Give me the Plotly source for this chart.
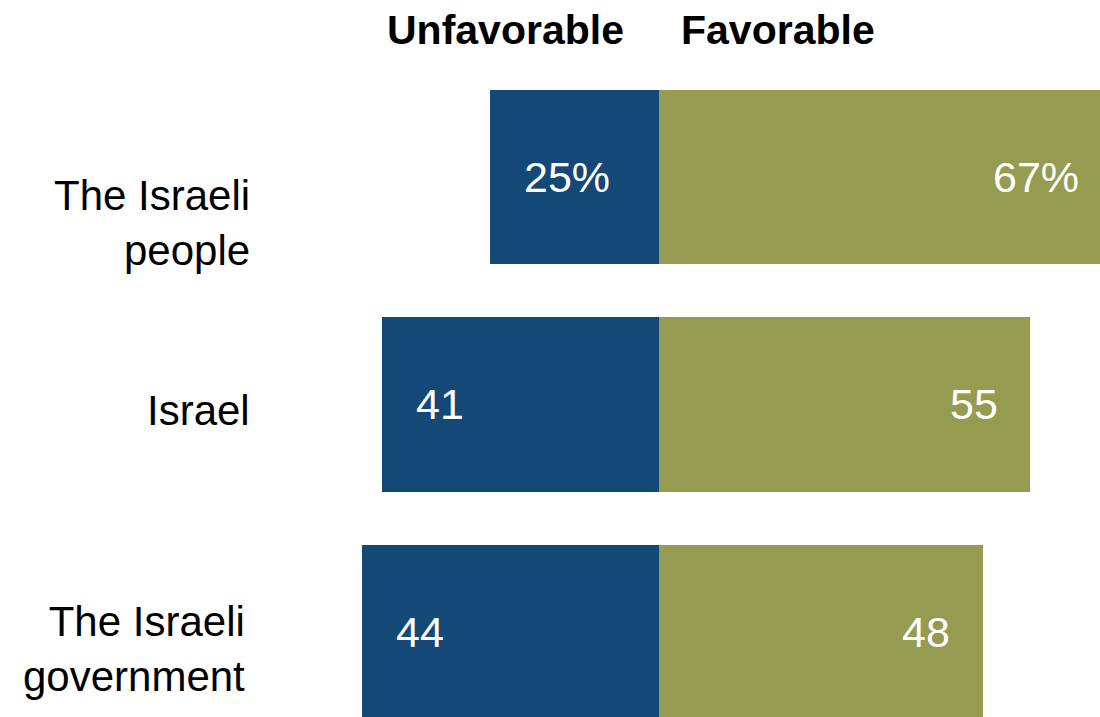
import plotly.graph_objects as go

# ---- data ----
categories = ["The Israeli<br>people", "Israel", "The Israeli<br>government"]
unfavorable = [25, 41, 44]
favorable = [67, 55, 48]
value_labels_unfav = ["25%", "41", "44"]
value_labels_fav = ["67%", "55", "48"]
header_labels = ["Unfavorable", "Favorable"]

# ---- styles ----
BLUE = "#144877"
OLIVE = "#959B51"
FONT = "Liberation Sans, Arial, sans-serif"
label_dx = [0, 0, -5]      # pixel nudges for category labels
label_dy = [-46, -6, -17]
X_RANGE = [-658.5 / 6.75, 441.5 / 6.75]
Y_RANGE = [2.374, -0.778]


def x_to_paper(v):
    return (v - X_RANGE[0]) / (X_RANGE[1] - X_RANGE[0])


y_idx = list(range(len(categories)))

fig = go.Figure()
fig.add_trace(go.Bar(
    y=y_idx, x=[-v for v in unfavorable], orientation="h",
    marker=dict(color=BLUE, line=dict(width=0)), width=0.767,
    hoverinfo="skip", name="Unfavorable"))
fig.add_trace(go.Bar(
    y=y_idx, x=favorable, orientation="h",
    marker=dict(color=OLIVE, line=dict(width=0)), width=0.767,
    hoverinfo="skip", name="Favorable"))

annotations = []
for i, (u, f) in enumerate(zip(unfavorable, favorable)):
    annotations.append(dict(x=x_to_paper(-u), y=i, xref="paper", yref="y", text=value_labels_unfav[i],
                            xanchor="left", yanchor="middle", xshift=32, showarrow=False,
                            font=dict(family=FONT, size=43, color="white")))
    annotations.append(dict(x=x_to_paper(f), y=i, xref="paper", yref="y", text=value_labels_fav[i],
                            xanchor="right", yanchor="middle", xshift=-30, showarrow=False,
                            font=dict(family=FONT, size=43, color="white")))
    annotations.append(dict(x=252 / 1100, y=i, xref="paper", yref="y", text=categories[i],
                            xanchor="right", yanchor="middle", align="right",
                            xshift=label_dx[i], yshift=label_dy[i], showarrow=False,
                            font=dict(family=FONT, size=42, color="black")))

annotations.append(dict(x=x_to_paper(0), y=1, xref="paper", yref="paper", text="<b>%s</b>" % header_labels[0],
                        xanchor="right", yanchor="middle", xshift=-33, yshift=-30, showarrow=False,
                        font=dict(family=FONT, size=41, color="black")))
annotations.append(dict(x=x_to_paper(0), y=1, xref="paper", yref="paper", text="<b>%s</b>" % header_labels[1],
                        xanchor="left", yanchor="middle", xshift=20, yshift=-30, showarrow=False,
                        font=dict(family=FONT, size=41, color="black")))

fig.update_layout(
    width=1100, height=717,
    margin=dict(l=0, r=0, t=0, b=0),
    barmode="relative", bargap=0,
    showlegend=False,
    plot_bgcolor="white", paper_bgcolor="white",
    xaxis=dict(range=X_RANGE, visible=False, fixedrange=True),
    yaxis=dict(range=Y_RANGE, visible=False, fixedrange=True),
    annotations=annotations,
)

fig.write_html("out.html",
               config={"displayModeBar": False},
               post_script="document.body.style.margin='0';document.body.style.overflow='hidden';")
